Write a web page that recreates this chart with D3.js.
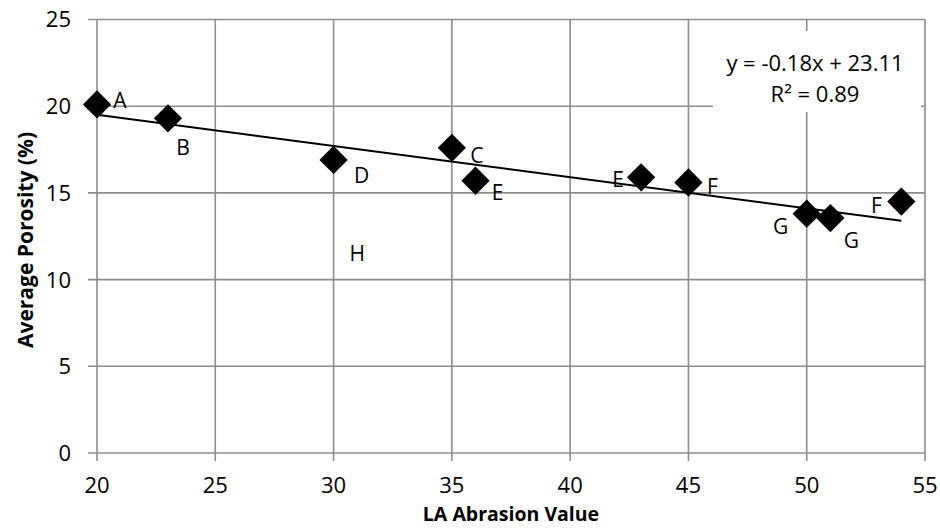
<!DOCTYPE html>
<html>
<head>
<meta charset="utf-8">
<script src="https://cdn.jsdelivr.net/npm/d3@7"></script>
<style>
  body { margin: 0; background: #fff; }
  text { font-family: "Open Sans", Lato, sans-serif; fill: #000; }
</style>
</head>
<body>
<div id="container"></div>
<script>
/* DATA */
var abrasion = [20, 23, 30, 35, 36, 43, 45, 50, 51, 54]
var porosity = [20.1, 19.3, 16.9, 17.6, 15.7, 15.9, 15.6, 13.8, 13.55, 14.5]
var pointLabels = ['A', 'B', 'D', 'C', 'E', 'E', 'F', 'G', 'G', 'F']
// label offsets in pixels from the marker centre (layout, not data)
var labelOffsets = [[23, -4], [15, 29], [28, 15], [25, 8], [22, 12], [-23, 2], [24, 4], [-26, 13], [21, 22], [-25, 4]]
// a label with no marker
var extraLabel = { text: 'H', x: 31, y: 11.5 }

var xTicks = [20, 25, 30, 35, 40, 45, 50, 55]
var yTicks = [0, 5, 10, 15, 20, 25]
var slope = -0.18, intercept = 23.11
var eqLines = ['y = -0.18x + 23.11', 'R² = 0.89']

/* SET UP */
var width = 940, height = 529
var margin = { left: 97, right: 15, top: 19.5, bottom: 76 }

var svg = d3.select('#container')
  .append('svg')
  .attr('width', width)
  .attr('height', height)

var x = d3.scaleLinear().domain([20, 55]).range([margin.left, width - margin.right])
var y = d3.scaleLinear().domain([0, 25]).range([height - margin.bottom, margin.top])

var gridColor = '#8c8c8c'

// vertical gridlines + ticks
svg.append('g')
  .selectAll('line')
  .data(xTicks)
  .enter()
  .append('line')
  .attr('x1', function(d) { return x(d) })
  .attr('x2', function(d) { return x(d) })
  .attr('y1', y(25))
  .attr('y2', y(0) + 8)
  .style('stroke', gridColor)
  .style('stroke-width', 1.6)

// horizontal gridlines + ticks
svg.append('g')
  .selectAll('line')
  .data(yTicks)
  .enter()
  .append('line')
  .attr('x1', x(20) - 9)
  .attr('x2', x(55))
  .attr('y1', function(d) { return y(d) })
  .attr('y2', function(d) { return y(d) })
  .style('stroke', gridColor)
  .style('stroke-width', 1.6)

// tick labels
svg.append('g')
  .selectAll('text')
  .data(xTicks)
  .enter()
  .append('text')
  .attr('x', function(d) { return x(d) })
  .attr('y', y(0) + 40)
  .attr('text-anchor', 'middle')
  .style('font-size', '22px')
  .text(function(d) { return d })

svg.append('g')
  .selectAll('text')
  .data(yTicks)
  .enter()
  .append('text')
  .attr('x', x(20) - 26)
  .attr('y', function(d) { return y(d) })
  .attr('dy', '0.36em')
  .attr('text-anchor', 'end')
  .style('font-size', '22px')
  .text(function(d) { return d })

// axis titles
svg.append('text')
  .attr('x', (x(20) + x(55)) / 2)
  .attr('y', 521)
  .attr('text-anchor', 'middle')
  .style('font-size', '19.5px')
  .style('font-weight', 'bold')
  .text('LA Abrasion Value')

svg.append('text')
  .attr('transform', 'translate(33,240) rotate(-90)')
  .attr('text-anchor', 'middle')
  .style('font-size', '21px')
  .style('font-weight', 'bold')
  .text('Average Porosity (%)')

// trendline
var xMin = d3.min(abrasion), xMax = d3.max(abrasion)
svg.append('line')
  .attr('x1', x(xMin))
  .attr('y1', y(slope * xMin + intercept))
  .attr('x2', x(xMax))
  .attr('y2', y(slope * xMax + intercept))
  .style('stroke', '#000')
  .style('stroke-width', 2)

// markers
var diamond = d3.symbol().type(d3.symbolSquare).size(400)
svg.append('g')
  .selectAll('path')
  .data(abrasion)
  .enter()
  .append('path')
  .attr('d', diamond)
  .attr('transform', function(d, i) { return 'translate(' + x(d) + ',' + y(porosity[i]) + ') rotate(45)' })
  .style('fill', '#000')

// point labels
svg.append('g')
  .selectAll('text')
  .data(abrasion)
  .enter()
  .append('text')
  .attr('x', function(d, i) { return x(d) + labelOffsets[i][0] })
  .attr('y', function(d, i) { return y(porosity[i]) + labelOffsets[i][1] })
  .attr('dy', '0.36em')
  .attr('text-anchor', 'middle')
  .style('font-size', '21px')
  .text(function(d, i) { return pointLabels[i] })

svg.append('text')
  .attr('x', x(extraLabel.x))
  .attr('y', y(extraLabel.y))
  .attr('dy', '0.36em')
  .attr('text-anchor', 'middle')
  .style('font-size', '21px')
  .text(extraLabel.text)

// equation box
svg.append('rect')
  .attr('x', 713)
  .attr('y', 31)
  .attr('width', 208)
  .attr('height', 81)
  .style('fill', '#fff')

svg.append('g')
  .selectAll('text')
  .data(eqLines)
  .enter()
  .append('text')
  .attr('x', 815)
  .attr('y', function(d, i) { return 71 + i * 31 })
  .attr('text-anchor', 'middle')
  .style('font-size', '22px')
  .text(function(d) { return d })
</script>
</body>
</html>
